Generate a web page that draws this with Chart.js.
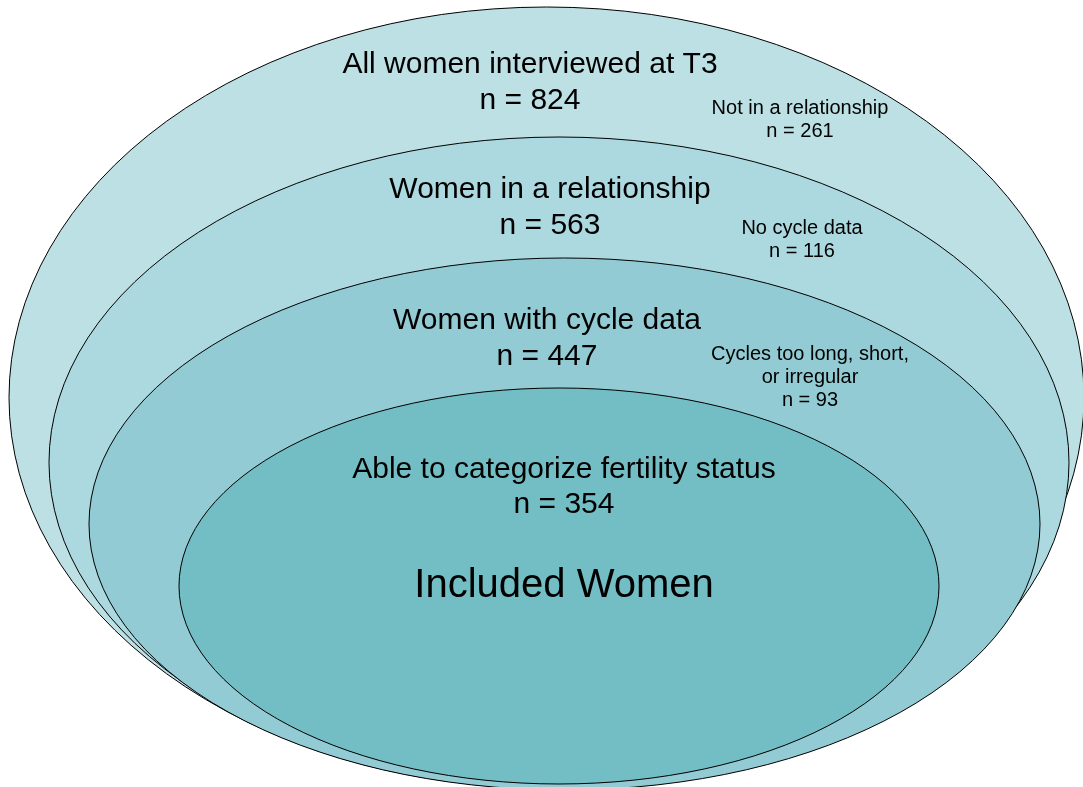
<!DOCTYPE html>
<html>
<head>
<meta charset="utf-8">
<script src="https://cdn.jsdelivr.net/npm/chart.js@4"></script>
<style>
  html, body { margin: 0; padding: 0; background: #ffffff; overflow: hidden; }
  #wrap { width: 1083px; height: 787px; }
</style>
</head>
<body>
<div id="wrap"><canvas id="c" width="1083" height="787"></canvas></div>
<script>
// ---- data ----
const groups = ["All women interviewed at T3", "Women in a relationship", "Women with cycle data", "Able to categorize fertility status"];
const groupCounts = [824, 563, 447, 354];
const exclusionReasons = [["Not in a relationship"], ["No cycle data"], ["Cycles too long, short,", "or irregular"]];
const exclusionCounts = [261, 116, 93];
const finalLabel = "Included Women";
// ellipse extents in chart units (x: 0..1083, y: 0..787 from top)
const ringLeft   = [9, 49, 89, 179];
const ringRight  = [1084, 1069, 1040, 939];
const ringTop    = [7, 137, 258, 388];
const ringBottom = [788, 788, 790, 784];

// ---- layout / style ----
const ringColors = ["#bce0e4", "#acd9e0", "#92cbd3", "#72bec4"];
const groupAnchor = [[530, 73, 109], [550, 198, 234], [547, 329, 365], [564, 478, 513]];
const exclAnchor = [[800, [114], 137], [802, [234], 257], [810, [360, 383], 406]];
const finalAnchor = [564, 597];
const FONT = '"Liberation Sans", Arial, Helvetica, sans-serif';

const ringPlugin = {
  id: 'rings',
  beforeDatasetsDraw(chart) {
    const ctx = chart.ctx, xs = chart.scales.x, ys = chart.scales.y;
    ctx.save();
    for (let i = 0; i < ringLeft.length; i++) {
      const l = xs.getPixelForValue(ringLeft[i]), r = xs.getPixelForValue(ringRight[i]);
      const t = ys.getPixelForValue(ringTop[i]), b = ys.getPixelForValue(ringBottom[i]);
      ctx.beginPath();
      ctx.ellipse((l + r) / 2, (t + b) / 2, Math.abs(r - l) / 2, Math.abs(b - t) / 2, 0, 0, Math.PI * 2);
      ctx.fillStyle = ringColors[i];
      ctx.fill();
      ctx.lineWidth = 1;
      ctx.strokeStyle = '#000000';
      ctx.stroke();
    }
    ctx.restore();
  },
  afterDatasetsDraw(chart) {
    const ctx = chart.ctx, xs = chart.scales.x, ys = chart.scales.y;
    ctx.save();
    ctx.fillStyle = '#000000';
    ctx.textAlign = 'center';
    ctx.textBaseline = 'alphabetic';
    ctx.font = '30px ' + FONT;
    groups.forEach((g, i) => {
      const a = groupAnchor[i];
      ctx.fillText(g, xs.getPixelForValue(a[0]), ys.getPixelForValue(a[1]));
      ctx.fillText('n = ' + groupCounts[i], xs.getPixelForValue(a[0]), ys.getPixelForValue(a[2]));
    });
    ctx.font = '20px ' + FONT;
    exclusionReasons.forEach((lines, i) => {
      const a = exclAnchor[i];
      lines.forEach((ln, j) => ctx.fillText(ln, xs.getPixelForValue(a[0]), ys.getPixelForValue(a[1][j])));
      ctx.fillText('n = ' + exclusionCounts[i], xs.getPixelForValue(a[0]), ys.getPixelForValue(a[2]));
    });
    ctx.font = '40px ' + FONT;
    ctx.fillText(finalLabel, xs.getPixelForValue(finalAnchor[0]), ys.getPixelForValue(finalAnchor[1]));
    ctx.restore();
  }
};

new Chart(document.getElementById('c'), {
  type: 'scatter',
  data: { datasets: [{ data: groupCounts.map((n, i) => ({ x: (ringLeft[i] + ringRight[i]) / 2, y: (ringTop[i] + ringBottom[i]) / 2 })), pointRadius: 0 }] },
  options: {
    responsive: false,
    animation: false,
    devicePixelRatio: 1,
    layout: { padding: 0 },
    plugins: { legend: { display: false }, tooltip: { enabled: false } },
    events: [],
    scales: {
      x: { type: 'linear', min: 0, max: 1083, display: false },
      y: { type: 'linear', min: 0, max: 787, reverse: true, display: false }
    }
  },
  plugins: [ringPlugin]
});
</script>
</body>
</html>
